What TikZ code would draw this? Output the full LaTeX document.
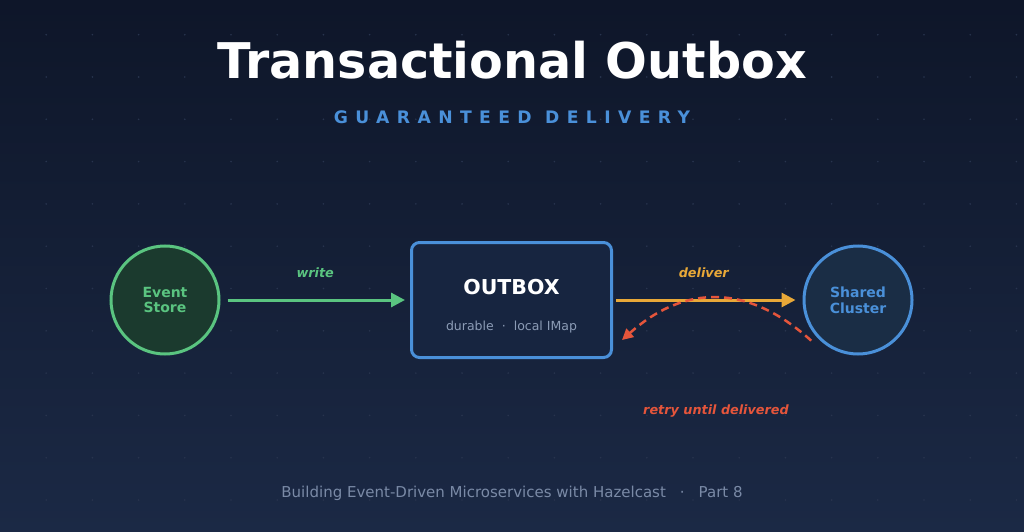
\documentclass[tikz,border=0pt]{standalone}
\usepackage{fontspec}
\setmainfont{DejaVu Sans}
\usetikzlibrary{arrows.meta,calc,positioning}

\definecolor{bgtop}{RGB}{14,22,41}
\definecolor{bgbot}{RGB}{27,41,69}
\definecolor{dotgrid}{RGB}{40,52,78}
\definecolor{storegreen}{RGB}{90,196,128}
\definecolor{storefill}{RGB}{27,58,46}
\definecolor{outblue}{RGB}{74,144,217}
\definecolor{outfill}{RGB}{23,37,64}
\definecolor{clusterfill}{RGB}{26,45,69}
\definecolor{deliverorange}{RGB}{232,168,56}
\definecolor{retryred}{RGB}{229,85,59}
\definecolor{subgray}{RGB}{140,156,182}
\definecolor{footgray}{RGB}{122,138,166}

\tikzset{
  hub/.style={circle,line width=3pt,minimum size=108pt,inner sep=0pt,align=center,
    font=\bfseries\fontsize{14}{15.6}\selectfont},
  flow/.style={line width=3pt,-{Triangle[length=14pt,width=14pt]}},
  lbl/.style={font=\bfseries\itshape\fontsize{12.8}{14}\selectfont,anchor=base}
}

\begin{document}
\begin{tikzpicture}[x=1pt,y=1pt]
  \shade[top color=bgtop,bottom color=bgbot] (0,0) rectangle (1024,531);
  \useasboundingbox (0,0) rectangle (1024,531);
  % dot grid
  \foreach \i in {1,...,22}
    \foreach \j in {0,...,11}
      \fill[dotgrid] (46.2*\i,496.3-42.3*\j) circle (0.9);

  \node[anchor=base,text=white,font=\bfseries\fontsize{49.2}{52}\selectfont] (title) at (512,452) {Transactional Outbox};
  \node[anchor=base,text=outblue,font=\bfseries\fontsize{17.2}{20}\selectfont\addfontfeature{LetterSpace=43}] (subtitle) at (512,407.7) {GUARANTEED DELIVERY};

  \node[hub,draw=storegreen,fill=storefill,text=storegreen] (store) at (165,231) {Event\\Store};
  \node[draw=outblue,fill=outfill,line width=3pt,rounded corners=8pt,minimum width=200pt,minimum height=115pt] (outbox) at (511.5,231) {};
  \node[anchor=base,text=white,font=\bfseries\fontsize{20.5}{24}\selectfont] (outboxname) at ([yshift=6]outbox.center) {OUTBOX};
  \node[anchor=base,text=subgray,font=\fontsize{12.5}{15}\selectfont] (outboxsub) at ([yshift=-30]outbox.center) {durable\hspace{8pt}·\hspace{8pt}local IMap};
  \node[hub,draw=outblue,fill=clusterfill,text=outblue] (cluster) at (858,231) {Shared\\Cluster};

  \draw[flow,draw=storegreen,fill=storegreen,shorten <=7pt,shorten >=5pt] (store) -- node[lbl,text=storegreen,yshift=23] (writelbl) {write} (outbox);
  \draw[flow,draw=deliverorange,fill=deliverorange,shorten <=3pt,shorten >=7pt] (outbox) -- node[lbl,text=deliverorange,xshift=-4,yshift=23] (deliverlbl) {deliver} (cluster);

  % retry loop back to the outbox
  \coordinate (retryfrom) at ($(cluster.center)+(221:62)$);
  \coordinate (retryto) at ($(outbox.east)+(9,-40)$);
  \draw[retryred,line width=2.5pt,dash pattern=on 8pt off 5pt,-{Triangle[length=11pt,width=11pt]}]
    (retryfrom) .. controls ($(retryfrom)+(-63,57)$) and ($(retryto)+(63,56)$) .. (retryto);
  \node[lbl,text=retryred] (retrylbl) at (716,117) {retry until delivered};

  \node[anchor=base,text=footgray,font=\fontsize{15}{18}\selectfont] (footer) at (512,33.7) {Building Event-Driven Microservices with Hazelcast\hspace{14pt}·\hspace{14pt}Part 8};
\end{tikzpicture}
\end{document}
